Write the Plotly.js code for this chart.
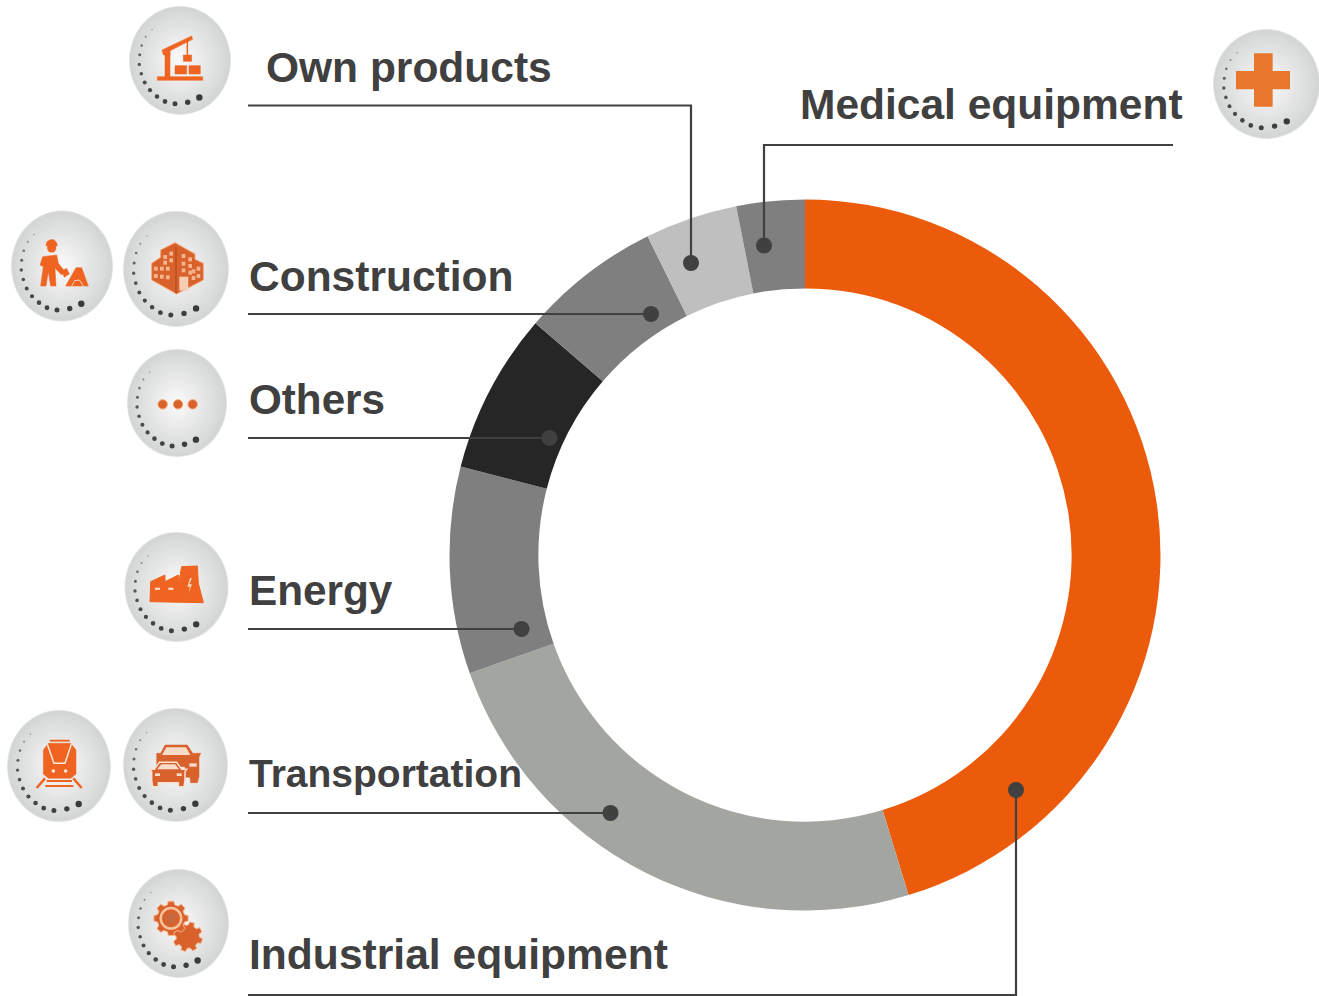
<!DOCTYPE html>
<html>
<head>
<meta charset="utf-8">
<script src="https://cdn.plot.ly/plotly-3.0.1.min.js"></script>
<style>html,body{margin:0;padding:0;background:#fff}#chart{width:1319px;height:996px}</style>
</head>
<body>
<div id="chart"></div>
<script>
// ---- chart data ----
const categories = ["Industrial equipment","Transportation","Energy","Others","Construction","Own products","Medical equipment"];
const shares = [45.3, 24.3, 9.4, 7.3, 6.4, 4.2, 3.1];
const sliceColors = ["#ec5b0b","#a3a5a0","#7f7f7f","#262626","#7f7f7f","#bfbfbf","#7f7f7f"];

const W = 1319, H = 996;
const labelText = ["Own products","Medical equipment","Construction","Others","Energy","Transportation","Industrial equipment"];
const labelLeft = [265,798.5,248,248,248,248,247.5];
const labelMid  = [68,105,276,399,590,773,954];
const labelSize = [42.5,42.5,42.5,42.2,42.3,39,42.6];

// leader lines, page pixels
const leaders = [
  [[248,105.5],[691,105.5],[691,263]],
  [[1173,145],[764,145],[764,245.5]],
  [[248,314],[651,314]],
  [[248,438],[549.5,438]],
  [[248,629],[521.5,629]],
  [[248,813],[610.5,813]],
  [[248,995],[1016,995],[1016,790]]
];

// badge ellipses: cx, cy, rx, ry
const badges = [
  [180,60.5,51,54.5],[62,266,51,55.5],[176,269,53,58],[177,403,50,54],[176.5,587,52,55],
  [59,766,52,56],[175.5,765,52.5,57],[178.5,923.5,50.5,54.5],[1266.5,84,53.5,55]
];
const dotOffsets = [[19.3,37],[7.7,41.7],[-5,43.3],[-15,41],[-23,36],[-30,29.7],[-35.3,22],[-38.7,13.3],[-40.7,4],[-40.3,-5.7],[-38.3,-15],[-34.3,-23.7],[-28,-31]];
const dotRadii = [3.2,2.7,2.5,2.4,2.3,2.1,2,1.8,1.7,1.5,1.3,1,0.8];
const dotShades = ["#3a3a3a","#3e3e3e","#404040","#424242","#444444","#464646","#4a4a4a","#505050","#565656","#606060","#707070","#858585","#9a9a9a"];

// ---- helpers ----
const px = x => x / W, py = y => 1 - y / H;
const shapes = [];
function polyPath(pts, close){
  return pts.map((p,i)=>(i?"L":"M")+px(p[0]).toFixed(5)+","+py(p[1]).toFixed(5)).join(" ")+(close?" Z":"");
}
function fillPoly(pts,color,edge,ew){
  shapes.push({type:"path",xref:"paper",yref:"paper",layer:"above",path:polyPath(pts,true),fillcolor:color,
    line:{color:edge||color,width:ew===undefined?0.5:ew}});
}
function strokeLine(pts,color,w){
  shapes.push({type:"path",xref:"paper",yref:"paper",layer:"above",path:polyPath(pts,false),fillcolor:"rgba(0,0,0,0)",line:{color:color,width:w}});
}
function disc(cx,cy,rx,ry,color,edge,ew){
  shapes.push({type:"circle",xref:"paper",yref:"paper",layer:"above",x0:px(cx-rx),x1:px(cx+rx),y0:py(cy+ry),y1:py(cy-ry),
    fillcolor:color,line:{color:edge||color,width:ew||0}});
}
function mix(a,b,t){
  const c=[0,1,2].map(i=>Math.round(a[i]+(b[i]-a[i])*t));
  return "rgb("+c.join(",")+")";
}
// zoomed crop coordinates -> page coordinates
const Z=(pts,ox,oy)=>pts.map(p=>[p[0]/3+ox,p[1]/3+oy]);
const R=(x0,y0,x1,y1)=>[[x0,y0],[x1,y0],[x1,y1],[x0,y1]];
function gear(cx,cy,ro,ri,n,phase){
  const out=[];
  for(let i=0;i<n;i++){
    const a=phase+i*2*Math.PI/n, s=2*Math.PI/n;
    [[-0.34,ri],[-0.2,ro],[0.2,ro],[0.34,ri]].forEach(q=>{
      out.push([cx+q[1]*Math.cos(a+q[0]*s),cy+q[1]*Math.sin(a+q[0]*s)]);
    });
  }
  return out;
}

// ---- badges ----
badges.forEach(b=>{
  const steps=18;
  disc(b[0],b[1],b[2],b[3],"#e6e7e7");
  for(let i=0;i<steps;i++){
    const t=i/(steps-1), f=0.985-0.9*t;
    disc(b[0],b[1],b[2]*f,b[3]*f,mix([212,213,213],[248,248,248],Math.pow(t,0.95)));
  }
  dotOffsets.forEach((d,i)=>{
    disc(b[0]+d[0]*b[2]/51,b[1]+d[1]*b[3]/54.5,dotRadii[i],dotRadii[i],dotShades[i]);
  });
});

// ---- glyphs ----
const OR="#ee6420", OD="#d9622c", LT="#f8d6bf";
// crane
[R(472,230,608,241),[[495,150],[510,150],[510,232],[495,232]],[[486,150],[575,108],[578,118],[510,152],[510,165],[490,165]],
 R(550,165,575,184),R(525,197,560,222),R(567,197,601,222)].forEach(p=>fillPoly(Z(p,0,0),OR));
strokeLine(Z([[562,115],[562,165]],0,0),OR,1.5);
// worker
fillPoly(Z([[138,738],[140,726],[150,719],[162,719],[170,728],[172,738]],0,0),OR);
disc(155/3,744/3,4.5,4.5,OR);
[[[128,770],[170,765],[175,790],[195,815],[185,825],[165,805],[168,858],[152,858],[145,815],[138,858],[122,858],[130,800],[120,795]],
 [[185,812],[200,805],[208,822],[193,832]],
 [[197,858],[228,803],[245,803],[265,858]]].forEach(p=>fillPoly(Z(p,0,0),OR));
strokeLine(Z([[215,858],[224,842],[238,840],[250,858]],0,0),LT,1);
// building
fillPoly(Z([[455,790],[482,772],[482,750],[525,728],[585,762],[585,778],[610,790],[610,840],[530,882],[455,840]],0,0),OD,"#f5a878",1);
[[462,800],[480,800],[498,800],[462,822],[480,824],[498,826],[490,765],[508,755],[490,782],[508,775],
 [545,762],[565,772],[545,785],[565,792],[590,800],[575,808],[590,822],[575,828],[545,805],[565,812]].forEach(w=>{
  fillPoly(Z(R(w[0],w[1],w[0]+11,w[1]+12),0,0),"#f3b48e",undefined,0);
});
fillPoly(Z(R(538,830,565,872),0,0),"#f6cdb2",undefined,0);
strokeLine(Z([[528,740],[528,880]],0,0),"#a9471b",1);
// others
[158,204,248].forEach(x=>disc(x/3+110,193/3+340,4.7,4.7,OD,"#f6a878",1));
// energy
fillPoly(Z([[120,785],[122,725],[165,705],[165,725],[205,705],[205,735],[215,680],[262,678],[265,730],[280,788]],110,340),OR,OR,1);
fillPoly(Z(R(135,743,150,750),110,340),LT,undefined,0);
fillPoly(Z(R(175,743,190,750),110,340),LT,undefined,0);
fillPoly(Z([[240,715],[232,740],[240,740],[236,760],[246,733],[238,733],[246,713]],110,340),LT,undefined,0);
// train
fillPoly(Z(R(150,120,208,124),0,700),OR);
fillPoly(Z([[130,150],[145,130],[212,130],[228,150],[228,222],[212,235],[145,235],[130,222]],0,700),OR);
strokeLine(Z([[142,133],[162,190],[195,190],[214,133]],0,700),"#fde8dc",1.5);
disc(160/3,213/3+700,1.8,1.8,"#fde8dc");
disc(197/3,213/3+700,1.8,1.8,"#fde8dc");
strokeLine(Z([[110,264],[135,235]],0,700),OR,2.5);
strokeLine(Z([[245,264],[220,235]],0,700),OR,2.5);
strokeLine(Z([[136,258],[220,258]],0,700),OR,2);
strokeLine(Z([[140,243],[216,243]],0,700),OR,2);
// cars
fillPoly(Z([[470,160],[482,160],[495,135],[562,135],[578,160],[602,160],[597,172],[597,230],[592,248],[572,248],[570,232],[555,232],[555,200],[470,200]],0,700),OD);
fillPoly(Z([[499,142],[558,142],[571,165],[486,165]],0,700),"#f7dcc9",undefined,0);
fillPoly(Z(R(568,190,590,200),0,700),"#f7dcc9",undefined,0);
fillPoly(Z([[448,208],[463,208],[478,187],[530,187],[545,208],[560,208],[555,215],[555,240],[552,260],[535,260],[535,248],[475,248],[475,260],[458,260],[455,240],[455,215]],0,700),OD,"#f7e2d4",1.5);
fillPoly(Z([[484,193],[525,193],[537,208],[471,208]],0,700),"#f7dcc9",undefined,0);
fillPoly(Z(R(465,220,480,228),0,700),"#f7dcc9",undefined,0);
fillPoly(Z(R(530,220,545,228),0,700),"#f7dcc9",undefined,0);
// gears
fillPoly(Z(gear(563,710,45,35,8,0.3),0,700),OD,"#f6b892",1);
fillPoly(Z(gear(513,655,52,42,8,0),0,700),OD,"#f6b892",1);
disc(513/3,655/3+700,11.5,11.5,"#f7c39f");
disc(513/3,655/3+700,9,9,OD);
disc(513/3,655/3+700,5.7,5.7,"#c9683c");
// medical cross
fillPoly(Z(R(162,100,218,260),1200,20),"#e8762d",undefined,0);
fillPoly(Z(R(108,153,270,208),1200,20),"#e8762d",undefined,0);

// ---- leader lines ----
const INK="#404040";
leaders.forEach(l=>{
  strokeLine(l,INK,2.2);
  const e=l[l.length-1];
  disc(e[0],e[1],8,8,INK);
});

// ---- labels ----
const annotations = labelText.map((t,i)=>({
  text:t, xref:"paper", yref:"paper", x:px(labelLeft[i]), y:py(labelMid[i]),
  xanchor:"left", yanchor:"middle", showarrow:false, borderpad:0,
  font:{family:'"Liberation Sans", Arial, sans-serif', size:labelSize[i], color:INK, weight:700}
}));

const trace = {
  type:"pie", labels:categories, values:shares, sort:false, direction:"clockwise", rotation:0,
  hole:0.75, textinfo:"none", hoverinfo:"label+percent", showlegend:false,
  marker:{colors:sliceColors, line:{width:0}},
  domain:{x:[449.5/W,1160.5/W], y:[1-910.5/H,1-199.5/H]}
};

Plotly.newPlot("chart",[trace],{
  width:W,height:H,margin:{l:0,r:0,t:0,b:0,pad:0},
  paper_bgcolor:"#ffffff",plot_bgcolor:"#ffffff",showlegend:false,
  shapes:shapes,annotations:annotations
},{displayModeBar:false,staticPlot:true});
</script>
</body>
</html>
